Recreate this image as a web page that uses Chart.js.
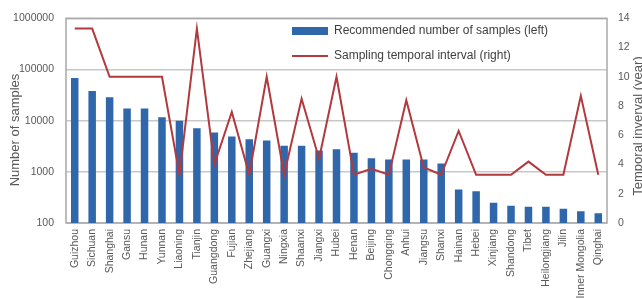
<!DOCTYPE html>
<html><head><meta charset="utf-8">
<script src="https://cdn.jsdelivr.net/npm/chart.js@4.4.1/dist/chart.umd.min.js"></script>
<style>html,body{margin:0;padding:0;background:#fff;}#wrap{width:642px;height:298px;}</style>
</head><body><div id="wrap"><canvas id="c" width="642" height="298"></canvas></div>
<script>
const categories = ["Guizhou","Sichuan","Shanghai","Gansu","Hunan","Yunnan","Liaoning","Tianjin","Guangdong","Fujian","Zhejiang","Guangxi","Ningxia","Shaanxi","Jiangxi","Hubei","Henan","Beijing","Chongqing","Anhui","Jiangsu","Shanxi","Hainan","Hebei","Xinjiang","Shandong","Tibet","Heilongjiang","Jilin","Inner Mongolia","Qinghai"];
const sampleCounts = [68000,38000,28500,17300,17300,11600,10000,7100,5850,4900,4350,4100,3250,3250,2600,2750,2350,1850,1750,1750,1750,1450,450,415,250,218,208,208,190,170,155];
const intervals = [13.3,13.3,10,10,10,10,3.3,13.3,4,7.6,3.3,10,3.3,8.5,4.4,10,3.3,3.7,3.3,8.4,3.8,3.3,6.3,3.3,3.3,3.3,4.2,3.3,3.3,8.7,3.3];
const leftTicks = [100,1000,10000,100000,1000000];
const rightMax = 14;
const rightStep = 2;
const seriesNames = ["Recommended number of samples (left)","Sampling temporal interval (right)"];
const leftTitle = "Number of samples";
const rightTitle = "Temporal inverval (year)";

const FAMILY = "'Liberation Sans', Arial, sans-serif";
const BLUE = '#2f67aa';
const RED = '#b2393d';
const TXT = '#595959';
Chart.defaults.font.family = FAMILY;

function drawRotated(ctx, text, x, y) {
  ctx.save();
  ctx.translate(x, y);
  ctx.rotate(-Math.PI / 2);
  ctx.font = "13px " + FAMILY;
  ctx.fillStyle = TXT;
  ctx.textAlign = 'center';
  ctx.textBaseline = 'middle';
  ctx.fillText(text, 0, 0);
  ctx.restore();
}

const framePlugin = {
  id: 'frame',
  afterUpdate(chart) {
    const lg = chart.legend;
    if (!lg) return;
    const w = lg.width, h = lg.height;
    lg.left = 279; lg.top = 12; lg.right = lg.left + w; lg.bottom = lg.top + h;
  },
  beforeDatasetsDraw(chart) {
    const {ctx, chartArea: a} = chart;
    ctx.save();
    ctx.strokeStyle = '#a8a8a8';
    ctx.lineWidth = 1.5;
    ctx.strokeRect(a.left, a.top, a.right - a.left, a.bottom - a.top);
    ctx.restore();
  },
  afterDraw(chart) {
    const {ctx} = chart;
    drawRotated(ctx, leftTitle, 15, 130);
    drawRotated(ctx, rightTitle, 638, 126);
  }
};

new Chart(document.getElementById('c'), {
  data: {
    labels: categories,
    datasets: [
      { type: 'bar', label: seriesNames[0], data: sampleCounts, yAxisID: 'y', backgroundColor: BLUE, borderWidth: 0,
        categoryPercentage: 1, barPercentage: 0.43, pointStyle: 'rect', order: 2 },
      { type: 'line', label: seriesNames[1], data: intervals, yAxisID: 'y1', borderColor: RED, backgroundColor: RED,
        borderWidth: 2, pointRadius: 0, tension: 0, pointStyle: 'line', order: 1 }
    ]
  },
  options: {
    responsive: false, animation: false,
    layout: { padding: { top: 17, left: 0, right: 0, bottom: 0 } },
    plugins: {
      legend: { position: 'chartArea', align: 'start', reverse: true,
        labels: { usePointStyle: true, pointStyleWidth: 36, boxHeight: 8, padding: 13,
          color: '#404040', font: { size: 12, family: FAMILY } } },
      tooltip: { enabled: false }
    },
    scales: {
      x: { offset: true, grid: { display: false, drawTicks: false }, border: { display: false },
        ticks: { autoSkip: false, minRotation: 90, maxRotation: 90, padding: 6, color: TXT, font: { size: 10.5 } },
        afterFit: s => { s.height = 75; } },
      y: { type: 'logarithmic', position: 'left', min: leftTicks[0], max: leftTicks[leftTicks.length - 1],
        afterBuildTicks: s => { s.ticks = leftTicks.map(v => ({ value: v })); },
        grid: { color: '#c8c8c8', lineWidth: 1.5, drawTicks: false }, border: { display: false },
        ticks: { padding: 12, color: TXT, font: { size: 10.5 }, callback: v => String(v) },
        afterFit: s => { s.width = 66; } },
      y1: { type: 'linear', position: 'right', min: 0, max: rightMax,
        ticks: { stepSize: rightStep, padding: 11, color: TXT, font: { size: 10.5 } },
        grid: { display: false, drawTicks: false }, border: { display: false },
        afterFit: s => { s.width = 35; } }
    }
  },
  plugins: [framePlugin]
});
</script></body></html>
